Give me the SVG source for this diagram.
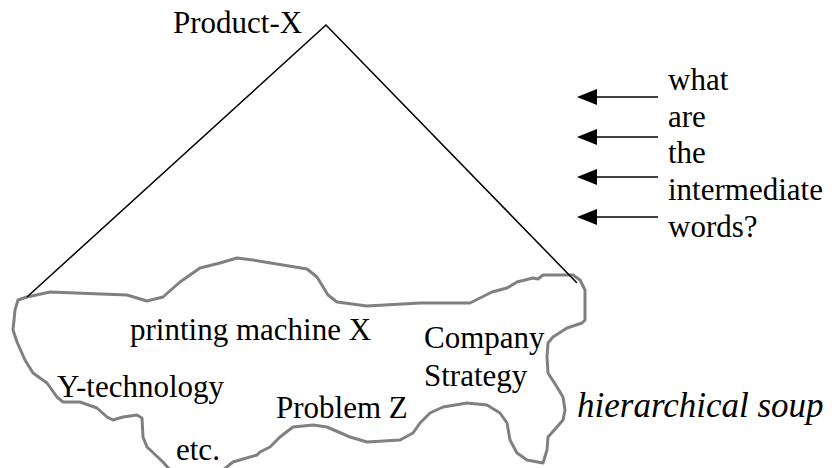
<svg xmlns="http://www.w3.org/2000/svg" width="839" height="468" viewBox="0 0 839 468">
<style>
.t{font-size:31px;fill:#000}
.it{font-style:italic;font-size:35px}
.ln{stroke:#000;stroke-width:1.5;fill:none}
.blob{stroke:#808080;stroke-width:3;fill:none;stroke-linejoin:round;stroke-linecap:round}
</style>
<defs>
<marker id="ah" viewBox="0 0 20 16" refX="0" refY="8" markerWidth="20" markerHeight="16" markerUnits="userSpaceOnUse" orient="auto">
<path d="M0,0 L20,8 L0,16 Z" fill="#000"/>
</marker>
</defs>
<g id="soup">
<path class="blob" d="M27,297 L50,292 L127,295 L147,301 L163,297 L180,282 L200,268 L220,263 L237,258 L253,260 L307,269 L317,277 L328,295 L337,302 L367,306 L420,303 L470,303 L482,297 L492,292 L507,288 L517,282 L533,278 L538,279 L543,275 L573,275 L580,280 L585,290 L585,320 L582,323 L567,328 L553,337 L548,343 L547,357 L548,373 L557,387 L563,397 L565,410 L563,420 L557,427 L548,437 L547,450 L543,463 L527,460 L517,453 L510,440 L507,423 L500,413 L487,405 L467,403 L443,407 L430,413 L420,423 L413,433 L400,440 L367,442 L350,437 L327,427 L313,425 L293,427 L280,437 L270,447 L260,452 L257,455 L233,462 L223,470 L200,480 L170,470 L163,462 L147,447 L143,437 L142,418 L137,415 L123,417 L113,420 L107,417 L97,408 L80,402 L63,402 L57,397 L47,383 L33,373 L25,360 L17,342 L13,330 L15,310 L18,300 Z"/>
</g>
<g font-family="Liberation Serif, serif">
<g id="product-x">
<text class="t" x="173" y="33">Product-X</text>
</g>
<g id="question">
<text class="t" x="668" y="90">what</text>
<text class="t" x="668" y="127">are</text>
<text class="t" x="668" y="163">the</text>
<text class="t" x="668" y="200">intermediate</text>
<text class="t" x="668" y="237">words?</text>
</g>
<g id="printing-machine"><text class="t" x="130" y="340">printing machine X</text></g>
<g id="y-technology"><text class="t" x="57" y="397">Y-technology</text></g>
<g id="problem-z"><text class="t" x="276" y="418">Problem Z</text></g>
<g id="etc"><text class="t" x="176" y="460">etc.</text></g>
<g id="company-strategy"><text class="t" x="424" y="348">Company</text><text class="t" x="424" y="386">Strategy</text></g>
<g id="hierarchical-soup"><text class="t it" x="577" y="417">hierarchical soup</text></g>
</g>
<g id="triangle">
<path class="ln" d="M27,297 L326,25 L577,283"/>
</g>
<g id="connectors">
<line class="ln" x1="658" y1="97" x2="597" y2="97" marker-end="url(#ah)"/>
<line class="ln" x1="658" y1="137" x2="597" y2="137" marker-end="url(#ah)"/>
<line class="ln" x1="658" y1="177" x2="597" y2="177" marker-end="url(#ah)"/>
<line class="ln" x1="658" y1="217" x2="597" y2="217" marker-end="url(#ah)"/>
</g>
</svg>
